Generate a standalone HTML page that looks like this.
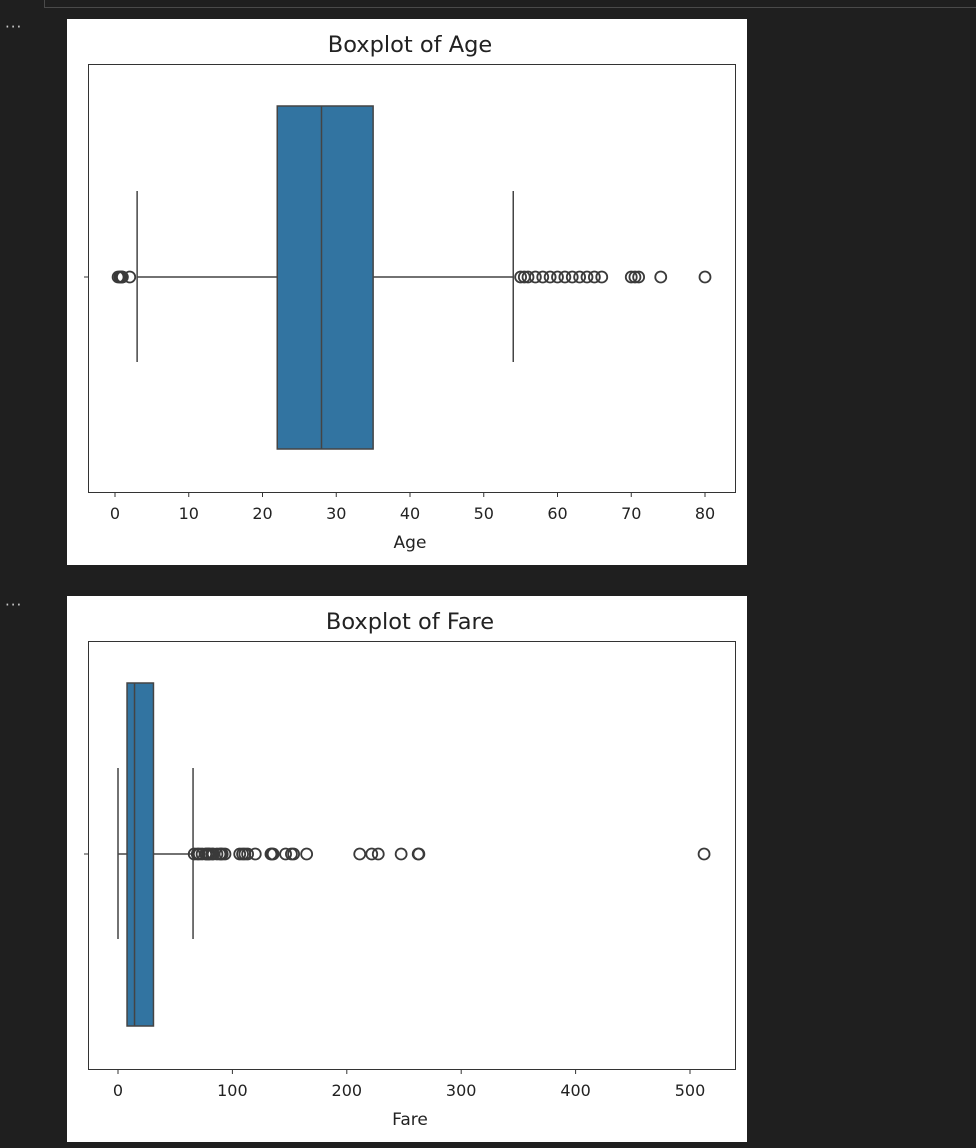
<!DOCTYPE html>
<html><head><meta charset="utf-8"><style>
body{margin:0;width:976px;height:1148px;background:#1f1f1f;overflow:hidden;font-family:"DejaVu Sans","Liberation Sans",sans-serif;position:relative}
.top{position:absolute;left:44px;top:-2px;width:940px;height:8px;border:1px solid #4a4a4a;background:#1f1f1f}
.dots{position:absolute;left:5px;color:#ccc;font-size:15px;letter-spacing:1px}
svg{position:absolute;left:67px}
</style></head><body>
<div class="top"></div>
<div class="dots" style="top:18px">···</div>
<div class="dots" style="top:596px">···</div>
<svg id="c1" width="680" height="546" style="top:19px"></svg>
<svg id="c2" width="680" height="546" style="top:596px"></svg>
<script>
const ageTicks=[0,10,20,30,40,50,60,70,80];
const ageStats=[3,22,28,35,54];
const ageOutliers=[0.42,0.67,0.75,0.83,0.92,1,2,55,55.5,56,57,58,59,60,61,62,63,64,65,66,70,70.5,71,74,80];
const fareTicks=[0,100,200,300,400,500];
const fareStats=[0,7.9,14.45,31,65.6];
const fareOutliers=[66.6,69.3,71,73.5,76.7,77.3,78.8,79.2,80,82.2,83.2,86.5,89.1,90,91.1,93.5,106.4,108.9,110.9,113.3,120,133.7,134.5,135.6,146.5,151.6,153.5,164.9,211.3,221.8,227.5,247.5,262.4,263,512.3];
const NS='http://www.w3.org/2000/svg';
function mk(svg,tag,attrs,txt){const e=document.createElementNS(NS,tag);for(const k in attrs)e.setAttribute(k,attrs[k]);if(txt!==undefined)e.textContent=txt;svg.appendChild(e);return e;}
function draw(id,title,label,ticks,stats,outs,x0,x1,v0,v1){
 const s=document.getElementById(id);
 const X=v=>x0+(v-v0)*(x1-x0)/(v1-v0);
 const bg=mk(s,'rect',{x:0,y:0,width:680,height:546,fill:'#fff'});
 
 
 const t=mk(s,'text',{x:343,y:33,'text-anchor':'middle','font-size':'22.5',fill:'#222'},title);
 
 
 const ax=mk(s,'rect',{x:21.5,y:45.5,width:647,height:428,fill:'none',stroke:'#333','stroke-width':1});
 
 
 mk(s,'line',{x1:17,x2:21,y1:258,y2:258,stroke:'#333'});
 ticks.forEach(v=>{const x=X(v);
  mk(s,'line',{x1:x,x2:x,y1:474,y2:478,stroke:'#333'});
  const tl=mk(s,'text',{x:x,y:500,'text-anchor':'middle','font-size':'16',fill:'#222'},v);
  
  });
 const xl=mk(s,'text',{x:343,y:529,'text-anchor':'middle','font-size':'17',fill:'#222'},label);
 
 
 const cy=258,top=87,bot=430,c1=172,c2=343,st='#444';
 mk(s,'line',{x1:X(stats[0]),x2:X(stats[1]),y1:cy,y2:cy,stroke:st,'stroke-width':1.5});
 mk(s,'line',{x1:X(stats[3]),x2:X(stats[4]),y1:cy,y2:cy,stroke:st,'stroke-width':1.5});
 mk(s,'line',{x1:X(stats[0]),x2:X(stats[0]),y1:c1,y2:c2,stroke:st,'stroke-width':1.5});
 mk(s,'line',{x1:X(stats[4]),x2:X(stats[4]),y1:c1,y2:c2,stroke:st,'stroke-width':1.5});
 const b=mk(s,'rect',{x:X(stats[1]),y:top,width:X(stats[3])-X(stats[1]),height:bot-top,fill:'#3274a1',stroke:st,'stroke-width':1.5});
 
 
 mk(s,'line',{x1:X(stats[2]),x2:X(stats[2]),y1:top,y2:bot,stroke:st,'stroke-width':1.5});
 outs.forEach(v=>{const c=mk(s,'circle',{cx:X(v),cy:cy,r:5.5,fill:'none',stroke:'#3a3a3a','stroke-width':1.8});
  
  });
}
draw('c1','Boxplot of Age','Age',ageTicks,ageStats,ageOutliers,48,638,0,80);
draw('c2','Boxplot of Fare','Fare',fareTicks,fareStats,fareOutliers,51,623,0,500);
</script></body></html>
